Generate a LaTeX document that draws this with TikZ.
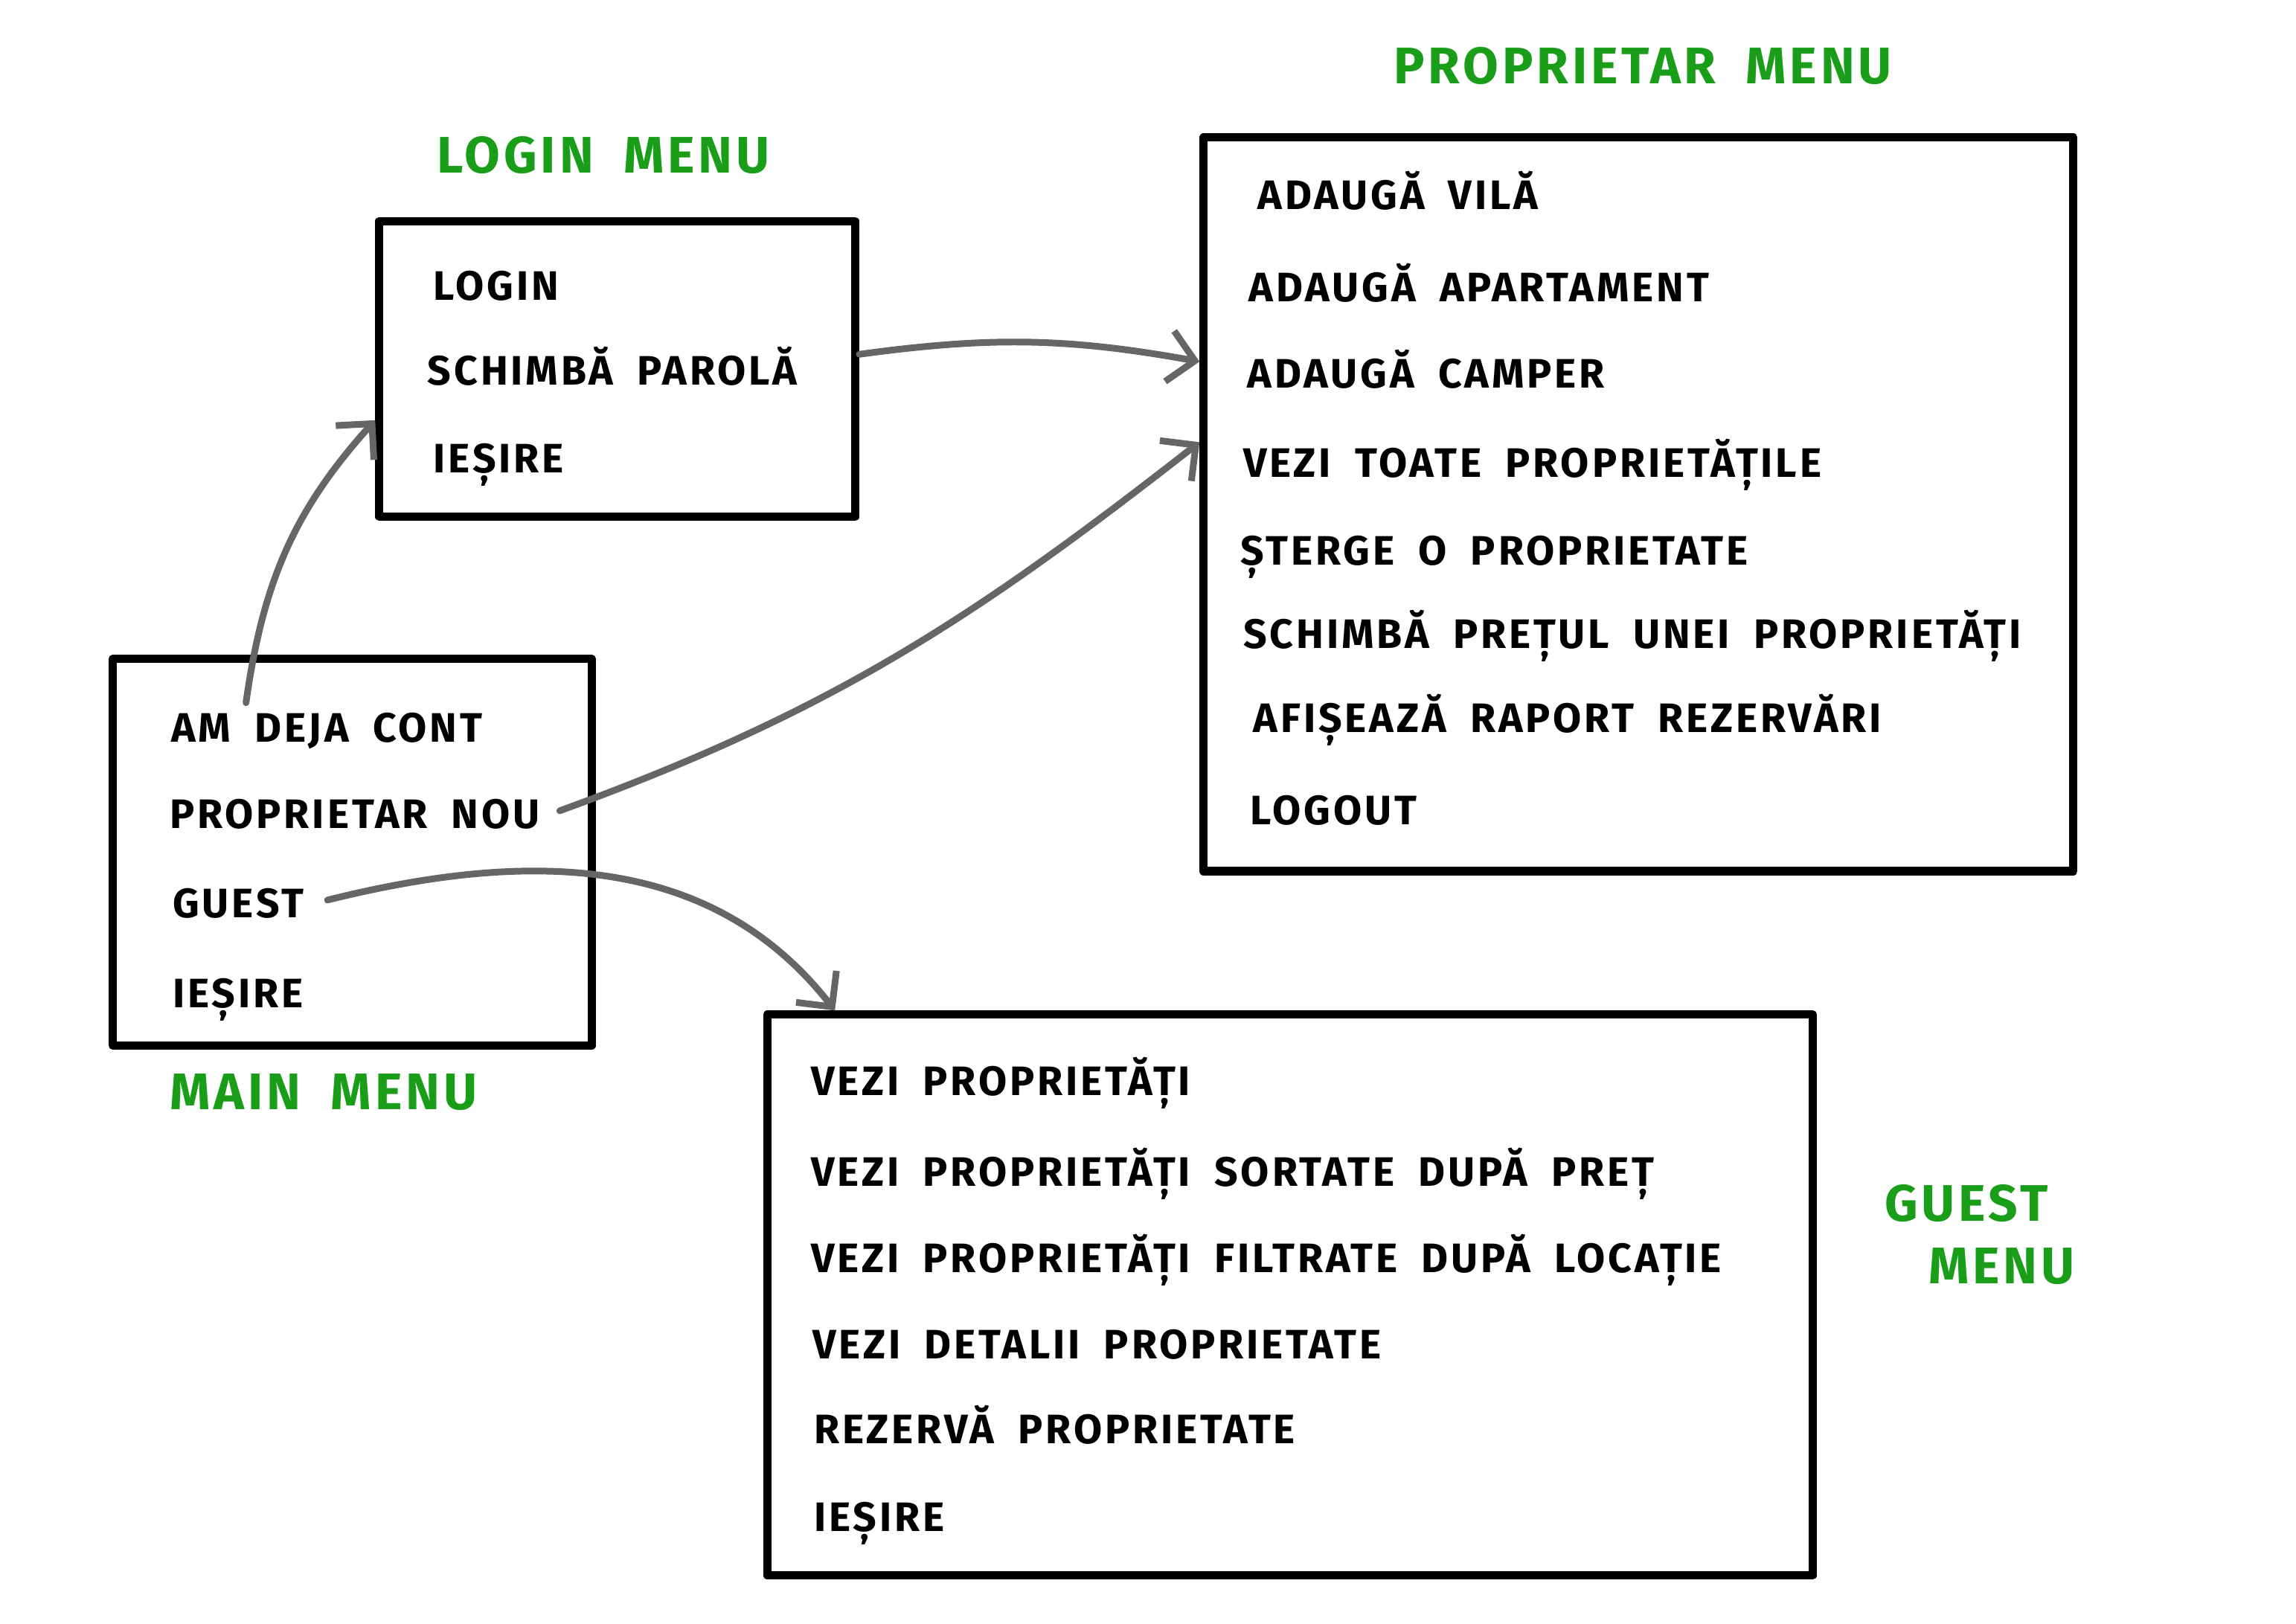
\documentclass[tikz,border=0pt]{standalone}
\usepackage{fontspec}
\setmainfont{Fira Sans}[LetterSpace=7, WordSpace=1.9]
\usetikzlibrary{arrows.meta}
\definecolor{cgreen}{HTML}{1A9E1A}
\definecolor{cgrey}{HTML}{666666}
\tikzset{
  every picture/.style={font=\fontsize{16}{19}\selectfont\bfseries, line width=1.2pt},
  menubox/.style={draw=black, line width=3.2pt, line join=round},
  item/.style={anchor=base west, inner sep=0pt},
  title/.style={text=cgreen, font=\fontsize{20}{24}\selectfont\bfseries},
  arrow/.style={-{Straight Barb[length=3.5mm, width=7mm]}, draw=cgrey, line width=2.6pt, line cap=round},
}

\begin{document}
\begin{tikzpicture}
  \useasboundingbox (0,0) rectangle (31.36,22.18);
  % login menu
  \node[menubox, minimum width=6.5cm, minimum height=4.04cm] (login) at (8.43,17.14) {};
  \node[title] (tlogin) at (8.24,20.06) {LOGIN MENU};
  \node[item] (llogin) at (5.9,18.08) {LOGIN};
  \node[item] (lparola) at (5.82,16.92) {SCHIMBĂ PAROLĂ};
  \node[item] (lexit) at (5.9,15.72) {IEȘIRE};
  % main menu
  \node[menubox, minimum width=6.54cm, minimum height=5.28cm] (main) at (4.81,10.54) {};
  \node[title] (tmain) at (4.42,7.26) {MAIN MENU};
  \node[item] (mcont) at (2.32,12.04) {AM DEJA CONT};
  \node[item] (mnou) at (2.3,10.86) {PROPRIETAR NOU};
  \node[item] (mguest) at (2.34,9.64) {GUEST};
  \node[item] (mexit) at (2.34,8.42) {IEȘIRE};
  % proprietar menu
  \node[menubox, minimum width=11.88cm, minimum height=10.02cm] (prop) at (22.38,15.29) {};
  \node[title] (tprop) at (22.44,21.28) {PROPRIETAR MENU};
  \node[item] (pvila) at (17.16,19.32) {ADAUGĂ VILĂ};
  \node[item] (papart) at (17.04,18.06) {ADAUGĂ APARTAMENT};
  \node[item] (pcamper) at (17.02,16.88) {ADAUGĂ CAMPER};
  \node[item] (ptoate) at (16.96,15.66) {VEZI TOATE PROPRIETĂȚILE};
  \node[item] (psterge) at (16.92,14.46) {ȘTERGE O PROPRIETATE};
  \node[item] (ppret) at (16.96,13.32) {SCHIMBĂ PREȚUL UNEI PROPRIETĂȚI};
  \node[item] (praport) at (17.1,12.18) {AFIȘEAZĂ RAPORT REZERVĂRI};
  \node[item] (plogout) at (17.06,10.92) {LOGOUT};
  % guest menu
  \node[menubox, minimum width=14.28cm, minimum height=7.66cm] (guest) at (17.62,4.49) {};
  \node[title] (tguest) at (26.86,5.74) {GUEST};
  \node[title] (tguestb) at (27.34,4.88) {MENU};
  \node[item] (gvezi) at (11.06,7.22) {VEZI PROPRIETĂȚI};
  \node[item] (gsort) at (11.06,5.98) {VEZI PROPRIETĂȚI SORTATE DUPĂ PREȚ};
  \node[item] (gfiltru) at (11.06,4.80) {VEZI PROPRIETĂȚI FILTRATE DUPĂ LOCAȚIE};
  \node[item] (gdetalii) at (11.08,3.62) {VEZI DETALII PROPRIETATE};
  \node[item] (grezerva) at (11.1,2.46) {REZERVĂ PROPRIETATE};
  \node[item] (gexit) at (11.1,1.26) {IEȘIRE};
  % transitions
  \draw[arrow] ([xshift=1.04cm, yshift=0.12cm]mcont.north west) to[out=82, in=228] ([yshift=-0.7cm]login.west);
  \draw[arrow] ([yshift=0.2cm]login.east) to[bend left=9] ([yshift=1.95cm]prop.west);
  \draw[arrow] ([xshift=0.25cm, yshift=0.05cm]mnou.east) to[out=20, in=218] ([yshift=0.85cm]prop.west);
  \draw[arrow] ([xshift=0.3cm, yshift=0.05cm]mguest.east) to[out=14, in=128] ([xshift=0.98cm]guest.north west);
\end{tikzpicture}
\end{document}
